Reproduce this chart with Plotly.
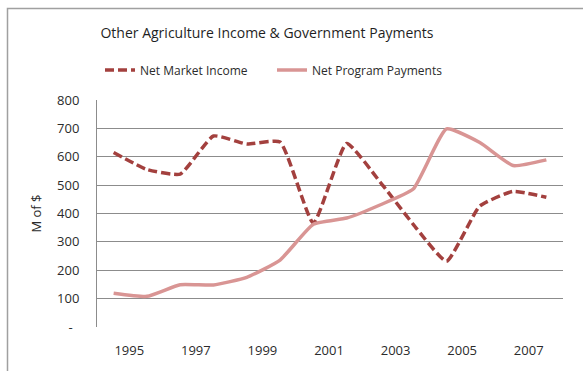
import plotly.graph_objects as go

years = list(range(1995, 2009))
net_market_income = [615, 555, 539, 673, 645, 652, 366, 647, 512, 362, 232, 426, 478, 457]
net_program_payments = [119, 108, 149, 148, 175, 236, 362, 384, 430, 486, 698, 650, 569, 589]
tick_years = [1995, 1997, 1999, 2001, 2003, 2005, 2007]
y_ticks = [0, 100, 200, 300, 400, 500, 600, 700, 800]
y_labels = ["-  ", "100", "200", "300", "400", "500", "600", "700", "800"]

W, H = 583, 371
ML, MR, MT, MB = 97, 20, 100, 44
PW, PH = W - ML - MR, H - MT - MB

font_family = "Open Sans"
text_color = "#2b2b2b"
grid_color = "#8c8c8c"

fig = go.Figure()
fig.add_trace(go.Scatter(
    x=years, y=net_market_income, name="Net Market Income",
    mode="lines", line=dict(color="#a3403e", width=3.5, dash="9px,4px", shape="spline", smoothing=0.45),
))
fig.add_trace(go.Scatter(
    x=years, y=net_program_payments, name="Net Program Payments",
    mode="lines", line=dict(color="#d99594", width=3.5, shape="spline", smoothing=0.45),
))

fig.update_layout(
    width=W, height=H,
    margin=dict(l=ML, r=MR, t=MT, b=MB),
    paper_bgcolor="white", plot_bgcolor="white",
    font=dict(family=font_family, color=text_color, size=12),
    title=dict(text="Other Agriculture Income & Government Payments",
               x=267 / W, xref="container", xanchor="center",
               y=1 - 33 / H, yref="container", yanchor="middle",
               font=dict(size=14, color="#1f1f1f")),
    legend=dict(orientation="h", x=(100 - ML) / PW, xanchor="left",
                y=1 + (100 - 70) / PH, yanchor="middle",
                font=dict(size=12), entrywidth=127, entrywidthmode="pixels",
                bgcolor="rgba(0,0,0,0)"),
    showlegend=True,
    xaxis=dict(range=[1994.5, 2008.5], tickmode="array",
               tickvals=[y + 0.47 for y in tick_years], ticktext=[str(y) for y in tick_years],
               showgrid=False, zeroline=False, showline=False, ticks="",
               ticklabelstandoff=14, tickfont=dict(size=13), fixedrange=True),
    yaxis=dict(range=[0, 800], tickmode="array", tickvals=y_ticks, ticktext=y_labels,
               showgrid=True, gridcolor=grid_color, gridwidth=1,
               zeroline=False, showline=True, linecolor=grid_color, linewidth=1,
               ticks="", ticklabelstandoff=14, tickfont=dict(size=13),
               title=dict(text="M of $", standoff=12, font=dict(size=13))),
)

# outer chart border
fig.add_shape(type="rect", xref="paper", yref="paper",
              x0=(7.5 - ML) / PW, x1=(W + 10 - ML) / PW,
              y0=(H - MB - (H + 10)) / PH, y1=(H - MB - 8.5) / PH,
              line=dict(color="#a0a0a0", width=1.5), fillcolor="rgba(0,0,0,0)", layer="below")

fig.write_html("out.html")
